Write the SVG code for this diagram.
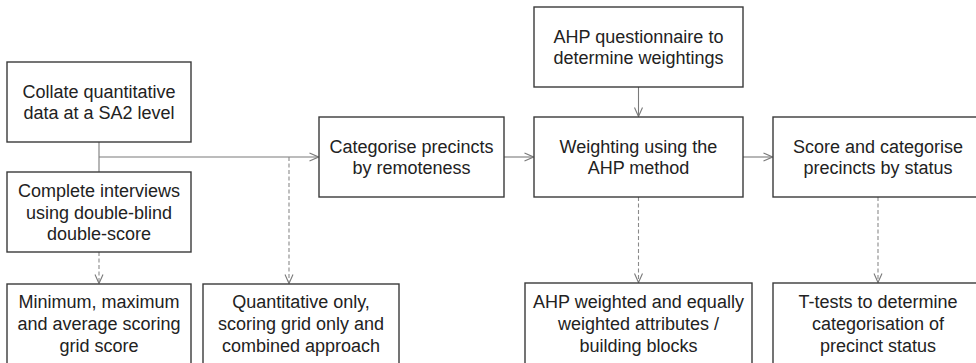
<svg xmlns="http://www.w3.org/2000/svg" width="976" height="363" viewBox="0 0 976 363">
  <style>
    .box { fill: #ffffff; stroke: #3a3a3a; stroke-width: 1.4; }
    .lbl { font-family: "Liberation Sans", Arial, sans-serif; font-size: 18px; fill: #222222; text-anchor: middle; }
    .line { fill: none; stroke: #7a7a7a; stroke-width: 1.1; }
    .dash { fill: none; stroke: #8a8a8a; stroke-width: 1.1; stroke-dasharray: 4 2.5; }
  </style>
  <defs>
    <marker id="arrow" viewBox="0 0 10 10" refX="10" refY="5" markerWidth="10" markerHeight="10" markerUnits="userSpaceOnUse" orient="auto">
      <path d="M1,1 L10,5 L1,9" fill="none" stroke="#7a7a7a" stroke-width="1.1"/>
    </marker>
  </defs>
  <rect width="976" height="363" fill="#ffffff"/>

  <!-- connectors -->
  <g id="connectors">
    <line class="line" x1="99" y1="142" x2="99" y2="172"/>
    <line class="line" x1="99" y1="157" x2="318.5" y2="157" marker-end="url(#arrow)"/>
    <line class="dash" x1="289" y1="157" x2="289" y2="283.5" marker-end="url(#arrow)"/>
    <line class="dash" x1="99" y1="252" x2="99" y2="283.5" marker-end="url(#arrow)"/>
    <line class="line" x1="504" y1="157" x2="533.5" y2="157" marker-end="url(#arrow)"/>
    <line class="line" x1="638.5" y1="87" x2="638.5" y2="116.5" marker-end="url(#arrow)"/>
    <line class="line" x1="743" y1="157" x2="772.5" y2="157" marker-end="url(#arrow)"/>
    <line class="dash" x1="638.5" y1="197" x2="638.5" y2="282.5" marker-end="url(#arrow)"/>
    <line class="dash" x1="878" y1="197" x2="878" y2="282.5" marker-end="url(#arrow)"/>
  </g>

  <g id="collate">
    <rect class="box" x="7" y="62" width="184" height="80"/>
    <text class="lbl" x="99" y="98">Collate quantitative</text>
    <text class="lbl" x="99" y="119">data at a SA2 level</text>
  </g>

  <g id="interviews">
    <rect class="box" x="7" y="172" width="184" height="80"/>
    <text class="lbl" x="99" y="197">Complete interviews</text>
    <text class="lbl" x="99" y="218.5">using double-blind</text>
    <text class="lbl" x="99" y="240">double-score</text>
  </g>

  <g id="minmax">
    <rect class="box" x="7" y="284" width="184" height="82"/>
    <text class="lbl" x="99" y="308">Minimum, maximum</text>
    <text class="lbl" x="99" y="330">and average scoring</text>
    <text class="lbl" x="99" y="352">grid score</text>
  </g>

  <g id="approach">
    <rect class="box" x="203" y="284" width="196" height="82"/>
    <text class="lbl" x="301" y="308">Quantitative only,</text>
    <text class="lbl" x="301" y="330">scoring grid only and</text>
    <text class="lbl" x="301" y="352">combined approach</text>
  </g>

  <g id="remoteness">
    <rect class="box" x="319" y="117" width="185" height="80"/>
    <text class="lbl" x="411.5" y="153">Categorise precincts</text>
    <text class="lbl" x="411.5" y="174">by remoteness</text>
  </g>

  <g id="questionnaire">
    <rect class="box" x="534" y="7" width="209" height="80"/>
    <text class="lbl" x="638.5" y="43">AHP questionnaire to</text>
    <text class="lbl" x="638.5" y="64">determine weightings</text>
  </g>

  <g id="weighting">
    <rect class="box" x="534" y="117" width="209" height="80"/>
    <text class="lbl" x="638.5" y="153">Weighting using the</text>
    <text class="lbl" x="638.5" y="174">AHP method</text>
  </g>

  <g id="attributes">
    <rect class="box" x="525" y="283" width="227" height="83"/>
    <text class="lbl" x="638.5" y="308">AHP weighted and equally</text>
    <text class="lbl" x="638.5" y="330">weighted attributes /</text>
    <text class="lbl" x="638.5" y="352">building blocks</text>
  </g>

  <g id="status">
    <rect class="box" x="773" y="117" width="212" height="80"/>
    <text class="lbl" x="878" y="153">Score and categorise</text>
    <text class="lbl" x="878" y="174">precincts by status</text>
  </g>

  <g id="ttests">
    <rect class="box" x="773" y="283" width="212" height="83"/>
    <text class="lbl" x="878" y="308">T-tests to determine</text>
    <text class="lbl" x="878" y="330">categorisation of</text>
    <text class="lbl" x="878" y="352">precinct status</text>
  </g>
</svg>
